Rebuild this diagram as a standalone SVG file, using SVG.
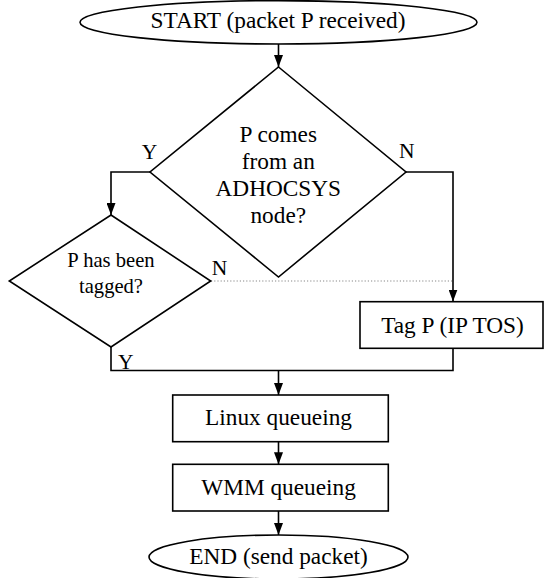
<svg xmlns="http://www.w3.org/2000/svg" width="544" height="578" viewBox="0 0 544 578">
<defs>
<style>
.s{fill:#fff;stroke:#000;stroke-width:1.6}
.c{fill:none;stroke:#000;stroke-width:1.6}
.d{fill:none;stroke:#888;stroke-width:1.2;stroke-dasharray:1.2,2}
text{font-family:"Liberation Serif","Times New Roman",serif;fill:#000}
.t{font-size:23.3px;text-anchor:middle}
.t2{font-size:20.6px;text-anchor:middle}
.l{font-size:21.5px}
</style>
<marker id="a" markerWidth="12" markerHeight="9" refX="12" refY="4.5" orient="auto" markerUnits="userSpaceOnUse">
<path d="M0,0 L12,4.5 L0,9 z" fill="#000"/>
</marker>
</defs>
<rect width="544" height="578" fill="#fff"/>
<g id="connectors">
<path class="c" d="M278.5,44 V67" marker-end="url(#a)"/>
<path class="c" d="M150,172 H111 V215" marker-end="url(#a)"/>
<path class="c" d="M406,172 H453 V301.5" marker-end="url(#a)"/>
<path class="d" d="M211,281 H452"/>
<path class="c" d="M111,347 V370.5 H453 V348.3"/>
<path class="c" d="M278.5,370.5 V395" marker-end="url(#a)"/>
<path class="c" d="M278.5,441.7 V464.3" marker-end="url(#a)"/>
<path class="c" d="M278.5,511 V535" marker-end="url(#a)"/>
<text class="l" x="141.7" y="159.3">Y</text>
<text class="l" x="399" y="158.3">N</text>
<text class="l" x="211.7" y="275">N</text>
<text class="l" x="118" y="369.3">Y</text>
</g>
<g id="start">
<ellipse class="s" cx="278.5" cy="22.3" rx="198.5" ry="21.7"/>
<text class="t" x="278" y="27.8">START (packet P received)</text>
</g>
<g id="adhoc">
<polygon class="s" points="278.5,67 406,172 278.5,277 150,172"/>
<text class="t" x="278.3" y="142.3">P comes</text>
<text class="t" x="278.3" y="169">from an</text>
<text class="t" x="278.3" y="195.7">ADHOCSYS</text>
<text class="t" x="278.3" y="223.3">node?</text>
</g>
<g id="tagged">
<polygon class="s" points="111,215 210.7,281 111,347 9.3,281"/>
<text class="t2" x="111" y="267.3">P has been</text>
<text class="t2" x="111" y="292.5">tagged?</text>
</g>
<g id="tag">
<rect class="s" x="360" y="301.7" width="183" height="46.6"/>
<text class="t" x="452.5" y="333.3">Tag P (IP TOS)</text>
</g>
<g id="linux">
<rect class="s" x="172.7" y="395" width="215.6" height="46.7"/>
<text class="t" x="278.5" y="425">Linux queueing</text>
</g>
<g id="wmm">
<rect class="s" x="172.7" y="464.3" width="215.6" height="46.7"/>
<text class="t" x="278.5" y="495">WMM queueing</text>
</g>
<g id="end">
<ellipse class="s" cx="278.5" cy="557" rx="129.5" ry="22"/>
<text class="t" x="278.5" y="564">END (send packet)</text>
</g>
</svg>
